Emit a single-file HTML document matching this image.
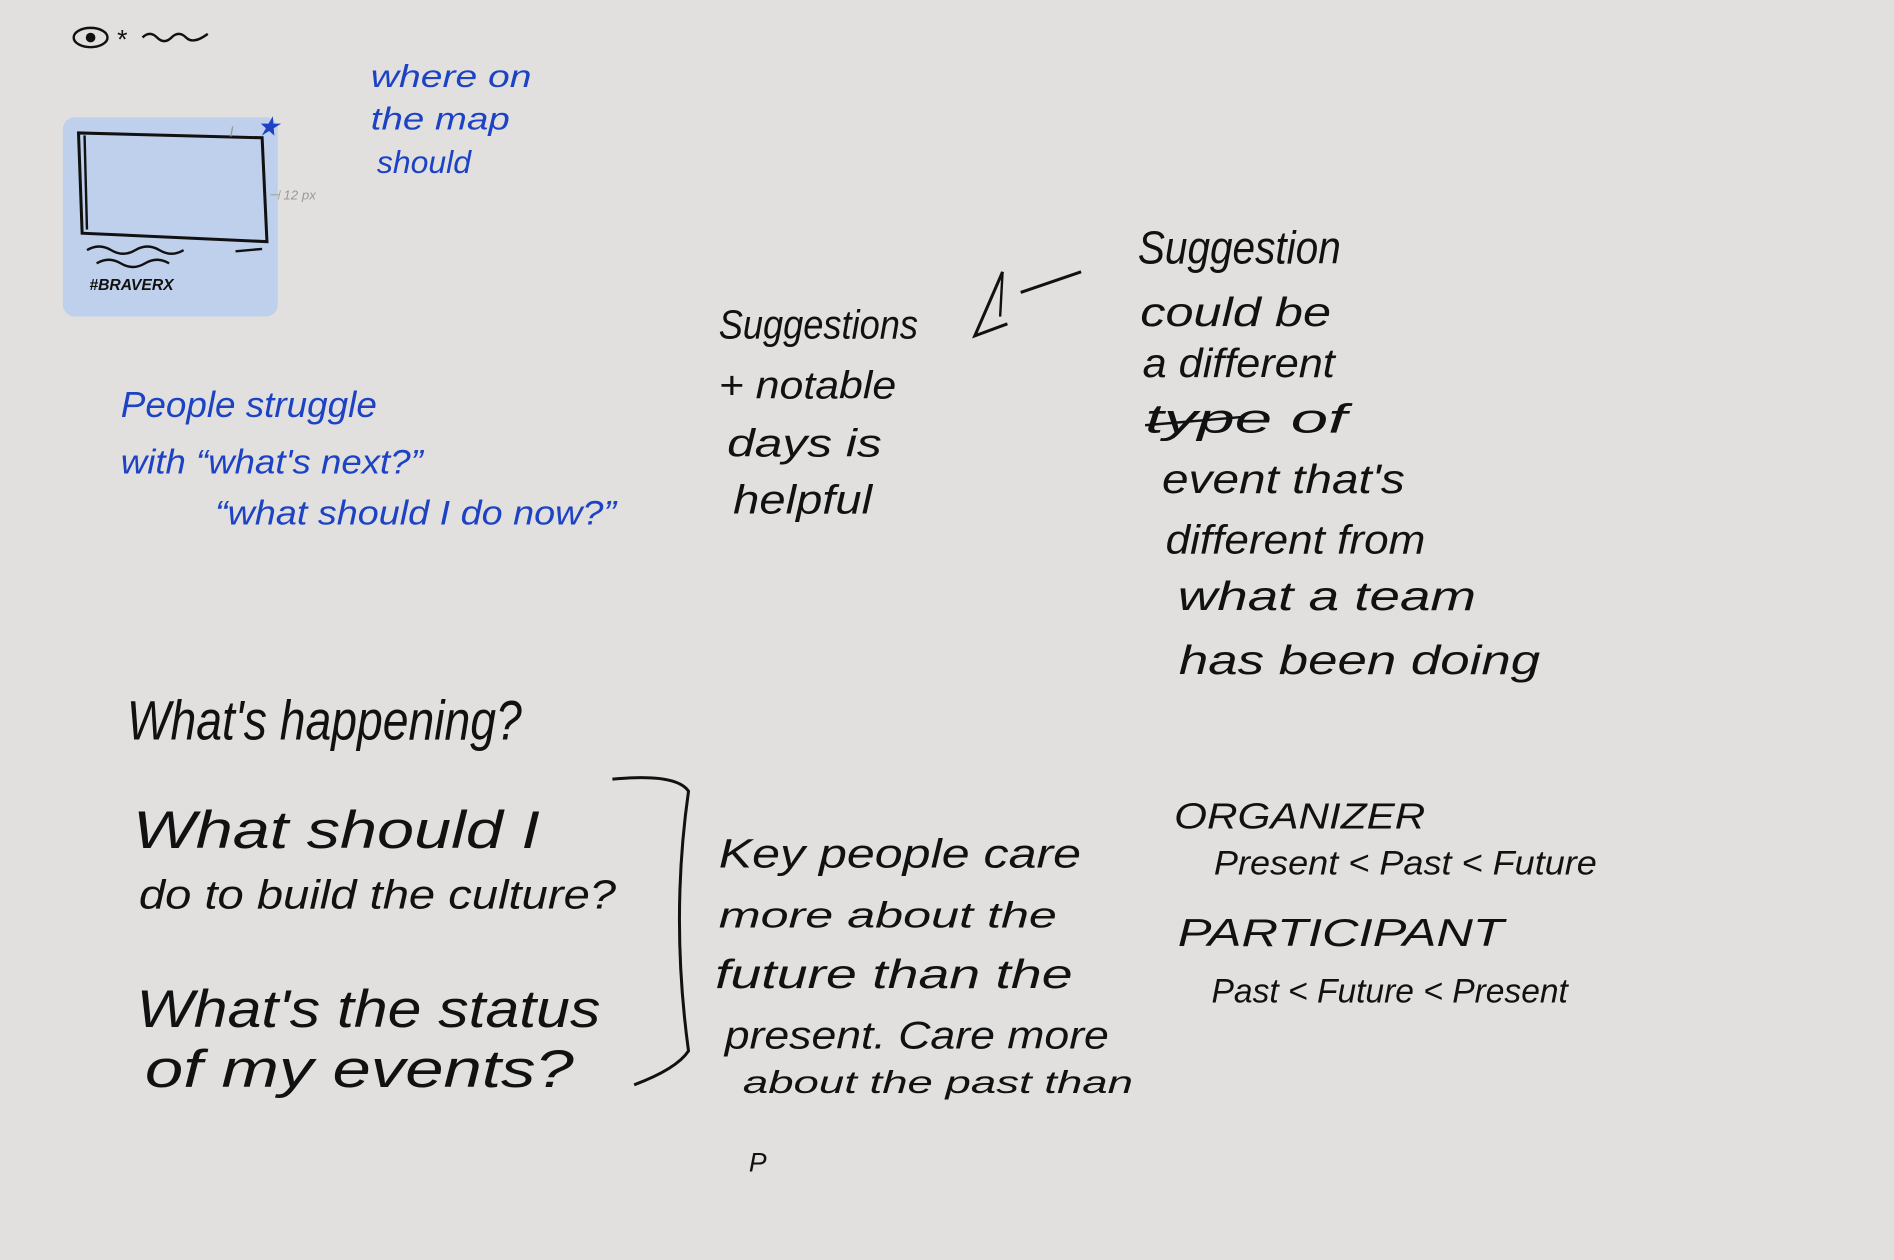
<!DOCTYPE html>
<html><head><meta charset="utf-8"><style>
html,body{margin:0;padding:0;background:#e1e0df;width:1894px;height:1260px;overflow:hidden}
svg{display:block}
text{font-family:"Liberation Sans",sans-serif;font-style:italic}
.b{fill:#1d43c4}
.k{fill:#111}
</style></head><body>
<svg width="1894" height="1260" viewBox="0 0 1568 1043" xmlns="http://www.w3.org/2000/svg">
<rect width="1568" height="1043" fill="#e1e0df"/>
<ellipse cx="75" cy="31" rx="14" ry="8" fill="none" stroke="#111" stroke-width="2"/>
<circle cx="75" cy="31" r="4" fill="#111"/>
<text x="96" y="40" font-size="22" class="k">*</text>
<path d="M118 31 q6 -6 12 0 t12 0 t12 0 t18 -3" fill="none" stroke="#111" stroke-width="2"/>
<rect x="52" y="97" width="178" height="165" rx="10" fill="#bfd0ec"/>
<path d="M65 110 L217 114 L221 200 L68 193 Z" fill="none" stroke="#111" stroke-width="2.5"/>
<path d="M70 112 L72 190" stroke="#111" stroke-width="2"/>
<path d="M72 207 q10 -6 20 0 t20 0 t20 0 t20 0" fill="none" stroke="#111" stroke-width="2"/>
<path d="M80 218 q10 -6 20 0 t20 0 t20 0" fill="none" stroke="#111" stroke-width="2"/>
<path d="M195 208 L217 206" stroke="#111" stroke-width="2"/>
<text x="74" y="240" font-size="13" font-weight="bold" class="k">#BRAVERX</text>
<text x="212" y="112" font-size="22" class="b">★</text>
<text x="190" y="113" font-size="12" fill="#999">I</text>
<text x="222" y="165" font-size="11" fill="#999">⊣ 12 px</text>
<g lengthAdjust="spacingAndGlyphs">
<text x="307" y="72" font-size="26" class="b" textLength="133" lengthAdjust="spacingAndGlyphs">where on</text>
<text x="307" y="107" font-size="26" class="b" textLength="115" lengthAdjust="spacingAndGlyphs">the map</text>
<text x="312" y="143" font-size="26" class="b" textLength="78" lengthAdjust="spacingAndGlyphs">should</text>
<text x="100" y="345" font-size="30" class="b" textLength="212" lengthAdjust="spacingAndGlyphs">People struggle</text>
<text x="100" y="392" font-size="28" class="b" textLength="250" lengthAdjust="spacingAndGlyphs">with “what's next?”</text>
<text x="178" y="434" font-size="28" class="b" textLength="332" lengthAdjust="spacingAndGlyphs">“what should I do now?”</text>
<text x="595" y="280" font-size="34" class="k" textLength="165" lengthAdjust="spacingAndGlyphs">Suggestions</text>
<text x="595" y="330" font-size="32" class="k" textLength="147" lengthAdjust="spacingAndGlyphs">+ notable</text>
<text x="602" y="378" font-size="32" class="k" textLength="128" lengthAdjust="spacingAndGlyphs">days is</text>
<text x="607" y="425" font-size="34" class="k" textLength="115" lengthAdjust="spacingAndGlyphs">helpful</text>
<text x="942" y="218" font-size="38" class="k" textLength="168" lengthAdjust="spacingAndGlyphs">Suggestion</text>
<text x="944" y="270" font-size="34" class="k" textLength="158" lengthAdjust="spacingAndGlyphs">could be</text>
<text x="946" y="312" font-size="34" class="k" textLength="159" lengthAdjust="spacingAndGlyphs">a different</text>
<text x="948" y="358" font-size="34" class="k" textLength="167" lengthAdjust="spacingAndGlyphs">type  of</text>
<text x="962" y="408" font-size="34" class="k" textLength="201" lengthAdjust="spacingAndGlyphs">event  that's</text>
<text x="965" y="458" font-size="34" class="k" textLength="215" lengthAdjust="spacingAndGlyphs">different from</text>
<text x="975" y="505" font-size="34" class="k" textLength="247" lengthAdjust="spacingAndGlyphs">what a team</text>
<text x="976" y="558" font-size="34" class="k" textLength="299" lengthAdjust="spacingAndGlyphs">has been doing</text>
<text x="105" y="612" font-size="46" class="k" textLength="327" lengthAdjust="spacingAndGlyphs">What's happening?</text>
<text x="110" y="702" font-size="44" class="k" textLength="337" lengthAdjust="spacingAndGlyphs">What should I</text>
<text x="115" y="752" font-size="34" class="k" textLength="395" lengthAdjust="spacingAndGlyphs">do to build the culture?</text>
<text x="113" y="850" font-size="44" class="k" textLength="384" lengthAdjust="spacingAndGlyphs">What's the status</text>
<text x="120" y="900" font-size="44" class="k" textLength="355" lengthAdjust="spacingAndGlyphs">of my events?</text>
<text x="595" y="718" font-size="34" class="k" textLength="300" lengthAdjust="spacingAndGlyphs">Key  people  care</text>
<text x="595" y="768" font-size="30" class="k" textLength="280" lengthAdjust="spacingAndGlyphs">more about  the</text>
<text x="592" y="818" font-size="34" class="k" textLength="296" lengthAdjust="spacingAndGlyphs">future  than  the</text>
<text x="600" y="868" font-size="32" class="k" textLength="318" lengthAdjust="spacingAndGlyphs">present.  Care  more</text>
<text x="615" y="905" font-size="26" class="k" textLength="323" lengthAdjust="spacingAndGlyphs">about  the  past  than</text>
<text x="972" y="686" font-size="30" class="k" textLength="208" lengthAdjust="spacingAndGlyphs">ORGANIZER</text>
<text x="1005" y="724" font-size="28" class="k" textLength="317" lengthAdjust="spacingAndGlyphs">Present &lt; Past &lt; Future</text>
<text x="975" y="783" font-size="32" class="k" textLength="270" lengthAdjust="spacingAndGlyphs">PARTICIPANT</text>
<text x="1003" y="830" font-size="28" class="k" textLength="295" lengthAdjust="spacingAndGlyphs">Past &lt; Future &lt; Present</text>
</g>
<path d="M948 352 L1030 345" stroke="#111" stroke-width="2"/>
<path d="M830 225 L807 278 L834 268" fill="none" stroke="#111" stroke-width="2.5"/>
<path d="M830 225 L828 262" stroke="#111" stroke-width="2"/>
<path d="M845 242 L895 225" stroke="#111" stroke-width="2.5"/>
<path d="M507 645 Q560 640 570 655 Q555 760 570 870 Q560 885 525 898" fill="none" stroke="#111" stroke-width="2.5"/>
<text x="620" y="970" font-size="22" class="k">P</text>
</svg>
</body></html>
